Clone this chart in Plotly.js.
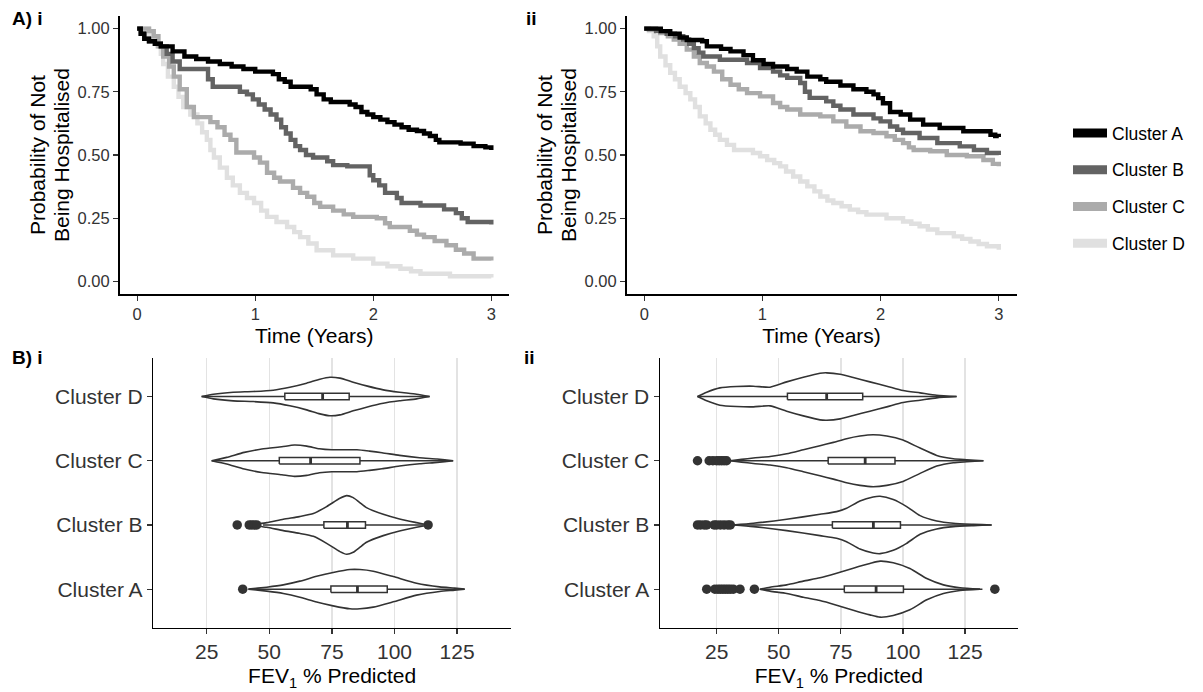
<!DOCTYPE html>
<html>
<head>
<meta charset="utf-8">
<script src="https://cdn.plot.ly/plotly-3.0.1.min.js"></script>
<style>html,body{margin:0;padding:0;background:#fff;}#chart{width:1203px;height:692px;}</style>
</head>
<body>
<div id="chart"></div>
<script>
// ---------- categories / labels ----------
const clusters = ["Cluster A", "Cluster B", "Cluster C", "Cluster D"];
const clusterColors = ["#000000", "#636363", "#ababab", "#e0e0e0"];
const survTicks = [0, 0.25, 0.5, 0.75, 1.0];
const timeTicks = [0, 1, 2, 3];
const fevTicks = [25, 50, 75, 100, 125];

// ---------- A) i : Kaplan-Meier (time in years, survival probability) ----------
const kmA_i_t = [0,0.03,0.06,0.1,0.15,0.2,0.3,0.4,0.5,0.6,0.7,0.8,0.9,1.0,1.15,1.2,1.25,1.3,1.47,1.52,1.58,1.64,1.8,1.85,1.9,1.95,2.0,2.06,2.12,2.18,2.24,2.3,2.37,2.43,2.48,2.53,2.56,2.74,2.85,2.95,3.0];
const kmA_i_s = [1.0,0.98,0.96,0.95,0.94,0.93,0.91,0.89,0.88,0.87,0.86,0.85,0.84,0.83,0.82,0.80,0.79,0.77,0.76,0.74,0.72,0.71,0.70,0.69,0.67,0.66,0.65,0.64,0.63,0.62,0.61,0.60,0.595,0.585,0.575,0.56,0.55,0.545,0.535,0.53,0.52];
const kmB_i_t = [0,0.03,0.06,0.1,0.15,0.2,0.25,0.3,0.36,0.6,0.64,0.87,0.93,0.98,1.03,1.08,1.13,1.18,1.22,1.26,1.3,1.34,1.38,1.43,1.49,1.61,1.66,1.78,1.97,2.0,2.05,2.1,2.2,2.24,2.4,2.6,2.7,2.75,2.8,3.0];
const kmB_i_s = [1.0,0.98,0.96,0.95,0.94,0.93,0.90,0.87,0.84,0.80,0.77,0.75,0.74,0.72,0.70,0.68,0.66,0.64,0.61,0.585,0.56,0.535,0.52,0.50,0.49,0.475,0.46,0.455,0.42,0.40,0.38,0.35,0.33,0.31,0.30,0.285,0.27,0.25,0.235,0.225];
const kmC_i_t = [0,0.05,0.1,0.14,0.18,0.22,0.27,0.31,0.36,0.42,0.48,0.62,0.68,0.74,0.79,0.84,0.99,1.04,1.1,1.16,1.21,1.32,1.38,1.44,1.5,1.55,1.66,1.75,1.83,2.03,2.1,2.14,2.31,2.37,2.43,2.52,2.62,2.7,2.77,2.85,3.0];
const kmC_i_s = [1.0,1.0,0.99,0.97,0.93,0.89,0.85,0.81,0.76,0.69,0.65,0.63,0.61,0.58,0.56,0.51,0.49,0.47,0.43,0.41,0.395,0.37,0.35,0.335,0.31,0.295,0.28,0.265,0.255,0.25,0.23,0.215,0.20,0.185,0.175,0.16,0.143,0.125,0.11,0.09,0.083];
const kmD_i_t = [0,0.05,0.1,0.14,0.17,0.2,0.22,0.26,0.31,0.35,0.39,0.45,0.51,0.55,0.59,0.62,0.65,0.7,0.76,0.81,0.87,0.93,0.99,1.05,1.1,1.18,1.27,1.33,1.38,1.45,1.52,1.66,1.83,2.0,2.12,2.23,2.32,2.4,2.65,3.0];
const kmD_i_s = [1.0,1.0,0.98,0.96,0.93,0.90,0.86,0.81,0.77,0.73,0.69,0.66,0.625,0.59,0.56,0.52,0.49,0.45,0.41,0.38,0.35,0.33,0.31,0.28,0.255,0.235,0.215,0.195,0.175,0.15,0.123,0.103,0.09,0.07,0.06,0.05,0.04,0.03,0.02,0.015];

// ---------- A) ii : Kaplan-Meier ----------
const kmA_ii_t = [0,0.14,0.22,0.3,0.36,0.49,0.53,0.65,0.73,0.84,0.92,1.01,1.09,1.21,1.29,1.38,1.49,1.54,1.66,1.77,1.88,1.94,1.98,2.02,2.08,2.17,2.25,2.36,2.5,2.7,2.93,2.97,3.0];
const kmA_ii_s = [1.0,0.99,0.98,0.965,0.955,0.95,0.93,0.92,0.91,0.895,0.875,0.86,0.85,0.84,0.83,0.81,0.80,0.79,0.775,0.76,0.75,0.74,0.725,0.705,0.67,0.66,0.64,0.62,0.607,0.594,0.58,0.575,0.571];
const kmB_ii_t = [0,0.1,0.19,0.26,0.33,0.38,0.42,0.46,0.5,0.64,0.87,0.98,1.09,1.15,1.21,1.32,1.36,1.4,1.54,1.6,1.66,1.77,1.94,2.0,2.08,2.14,2.19,2.33,2.48,2.67,2.79,2.9,3.0];
const kmB_ii_s = [1.0,0.99,0.98,0.97,0.957,0.94,0.923,0.905,0.89,0.877,0.864,0.844,0.83,0.815,0.805,0.785,0.75,0.726,0.712,0.695,0.68,0.66,0.645,0.633,0.613,0.60,0.587,0.567,0.547,0.534,0.52,0.508,0.50];
const kmC_ii_t = [0,0.04,0.135,0.2,0.25,0.3,0.36,0.42,0.47,0.53,0.59,0.66,0.73,0.8,0.87,0.98,1.09,1.15,1.21,1.32,1.49,1.6,1.71,1.83,1.94,2.05,2.12,2.19,2.24,2.28,2.42,2.56,2.73,2.87,2.95,3.0];
const kmC_ii_s = [1.0,0.995,0.983,0.97,0.957,0.94,0.917,0.89,0.864,0.85,0.83,0.80,0.778,0.76,0.745,0.732,0.706,0.69,0.68,0.66,0.653,0.633,0.613,0.594,0.587,0.574,0.56,0.547,0.53,0.52,0.515,0.50,0.495,0.48,0.465,0.455];
const kmD_ii_t = [0,0.04,0.08,0.11,0.135,0.18,0.22,0.26,0.3,0.35,0.39,0.43,0.47,0.52,0.56,0.6,0.64,0.7,0.76,0.92,0.98,1.04,1.1,1.15,1.2,1.26,1.32,1.38,1.44,1.49,1.55,1.6,1.67,1.74,1.81,1.88,2.05,2.19,2.26,2.33,2.4,2.48,2.62,2.69,2.76,2.83,2.9,3.0];
const kmD_ii_s = [1.0,0.99,0.97,0.93,0.89,0.855,0.825,0.80,0.77,0.745,0.72,0.69,0.653,0.625,0.60,0.58,0.56,0.54,0.52,0.508,0.495,0.48,0.468,0.455,0.435,0.415,0.395,0.376,0.356,0.336,0.32,0.31,0.297,0.284,0.274,0.264,0.25,0.237,0.228,0.218,0.205,0.191,0.178,0.168,0.158,0.148,0.139,0.125];

// ---------- B) i : violin outlines (FEV1 % predicted, half-width in category units) ----------
const vA_i_x = [41.6,49,55.6,62.2,68.9,75.5,82.2,86.2,91.5,99.5,108.8,118,124,128];
const vA_i_w = [0,0.031,0.067,0.125,0.2,0.26,0.306,0.306,0.28,0.197,0.093,0.036,0.016,0];
const vB_i_x = [41.6,45,49,55.6,62,67.6,72.9,78.2,80.9,83.5,86,88.8,95.5,102,108.8,113.4];
const vB_i_w = [0,0.016,0.036,0.088,0.13,0.177,0.286,0.415,0.457,0.426,0.353,0.27,0.166,0.093,0.036,0];
const vC_i_x = [27,33,40,47,55,60,65,70,75,80,85,90,95,102,110,117,123.4];
const vC_i_w = [0,0.052,0.13,0.182,0.218,0.244,0.228,0.187,0.171,0.171,0.171,0.15,0.125,0.083,0.047,0.026,0];
const vD_i_x = [23,27.7,35.6,43.6,51.6,58.2,64.9,70.2,74.2,78.2,83.5,88.8,95.5,102,108.8,114];
const vD_i_w = [0,0.036,0.067,0.078,0.099,0.145,0.208,0.27,0.30,0.286,0.223,0.166,0.104,0.067,0.036,0];
// box statistics, order A,B,C,D
const bx_i_q1  = [74.6, 71.8, 54.0, 56.2];
const bx_i_med = [85.2, 81.2, 66.5, 71.3];
const bx_i_q3  = [97.1, 88.4, 86.2, 81.9];
const bx_i_lo  = [42.0, 47.5, 27.0, 23.0];
const bx_i_hi  = [128.0, 111.4, 123.4, 114.0];
const out_i_x = [39.4, 37.2, 42.0, 43.0, 44.0, 45.0, 113.4];
const out_i_c = ["Cluster A","Cluster B","Cluster B","Cluster B","Cluster B","Cluster B","Cluster B"];

// ---------- B) ii ----------
const vA_ii_x = [42.4,46.5,53.2,59.9,66.6,73.3,80,86.7,90.8,96.1,102.8,109.6,116.3,123,131];
const vA_ii_w = [0,0.031,0.067,0.125,0.177,0.249,0.327,0.4,0.436,0.41,0.322,0.166,0.067,0.021,0];
const vB_ii_x = [31.7,39.8,53.2,66.6,73.3,77.3,82.7,88,90.8,96.1,101.5,106.9,113.6,120.3,128.4,135.7];
const vB_ii_w = [0,0.026,0.088,0.166,0.208,0.26,0.374,0.436,0.447,0.395,0.286,0.145,0.062,0.026,0.01,0];
const vC_ii_x = [30.4,35,39.8,46.5,53.2,59.9,66.6,72,77.3,82.7,88,93.5,100,106.9,113.6,120.3,125.7,132.4];
const vC_ii_w = [0,0.021,0.042,0.067,0.109,0.171,0.234,0.286,0.343,0.384,0.405,0.384,0.322,0.197,0.083,0.031,0.016,0];
const vD_ii_x = [17.3,21,26.3,33,39.8,46.5,53.2,59.9,66.6,69.3,74.7,80,86.7,93.5,100,106.9,113.6,121.6];
const vD_ii_w = [0,0.067,0.135,0.156,0.161,0.145,0.228,0.301,0.363,0.369,0.348,0.296,0.228,0.161,0.093,0.057,0.021,0];
const bx_ii_q1  = [76.4, 71.6, 69.9, 53.5];
const bx_ii_med = [89.2, 88.1, 84.8, 69.3];
const bx_ii_q3  = [100.2, 99.0, 96.8, 83.8];
const bx_ii_lo  = [42.4, 31.7, 30.4, 17.3];
const bx_ii_hi  = [132.0, 135.7, 132.4, 121.6];
const out_ii_x = [21,24.3,25.5,26.5,27.5,28.5,29.5,30.5,31.7,34.4,40.2,137, 17.3,18.5,20,21,24,25,26.5,28,29.5,30.5, 17.3,22,23.5,25,26,27,28,29];
const out_ii_c = ["Cluster A","Cluster A","Cluster A","Cluster A","Cluster A","Cluster A","Cluster A","Cluster A","Cluster A","Cluster A","Cluster A","Cluster A",
  "Cluster B","Cluster B","Cluster B","Cluster B","Cluster B","Cluster B","Cluster B","Cluster B","Cluster B","Cluster B",
  "Cluster C","Cluster C","Cluster C","Cluster C","Cluster C","Cluster C","Cluster C","Cluster C"];

// ---------- build traces ----------
const FONT = "Liberation Sans, Arial, Helvetica, sans-serif";
const BOX_HALF = 0.05;   // half height of the box (style)
const EDGE = "#333333";
const traces = [];
function kmTrace(t, s, i, xa, ya) {
  return {type: "scatter", mode: "lines", x: t, y: s, xaxis: xa, yaxis: ya,
    line: {color: clusterColors[i], width: 4.4, shape: "hv"}, showlegend: false, hoverinfo: "skip"};
}
const km_i = [[kmA_i_t,kmA_i_s],[kmB_i_t,kmB_i_s],[kmC_i_t,kmC_i_s],[kmD_i_t,kmD_i_s]];
const km_ii = [[kmA_ii_t,kmA_ii_s],[kmB_ii_t,kmB_ii_s],[kmC_ii_t,kmC_ii_s],[kmD_ii_t,kmD_ii_s]];
for (let i = 3; i >= 0; i--) traces.push(kmTrace(km_i[i][0], km_i[i][1], i, "x", "y"));
for (let i = 3; i >= 0; i--) traces.push(kmTrace(km_ii[i][0], km_ii[i][1], i, "x2", "y2"));

function violinTrace(vx, vw, pos, xa, ya) {
  const xs = vx.concat(vx.slice().reverse());
  const ys = vw.map(w => pos + w).concat(vw.slice().reverse().map(w => pos - w));
  xs.push(xs[0]); ys.push(ys[0]);
  return {type: "scatter", mode: "lines", x: xs, y: ys, xaxis: xa, yaxis: ya, fill: "toself",
    fillcolor: "#ffffff", line: {color: EDGE, width: 1.6, shape: "spline", smoothing: 0.6},
    showlegend: false, hoverinfo: "skip"};
}
function boxTraces(i, q1, med, q3, lo, hi, xa, ya) {
  const p = i + 1;
  const common = {type: "scatter", mode: "lines", xaxis: xa, yaxis: ya, showlegend: false, hoverinfo: "skip"};
  return [
    Object.assign({}, common, {x: [lo[i], q1[i], null, q3[i], hi[i]], y: [p, p, null, p, p],
      line: {color: EDGE, width: 1.5}}),
    Object.assign({}, common, {x: [q1[i], q3[i], q3[i], q1[i], q1[i]],
      y: [p - BOX_HALF, p - BOX_HALF, p + BOX_HALF, p + BOX_HALF, p - BOX_HALF],
      fill: "toself", fillcolor: "#ffffff", line: {color: EDGE, width: 1.5}}),
    Object.assign({}, common, {x: [med[i], med[i]], y: [p - BOX_HALF, p + BOX_HALF],
      line: {color: EDGE, width: 2.8}})
  ];
}
const viol_i = [[vA_i_x,vA_i_w],[vB_i_x,vB_i_w],[vC_i_x,vC_i_w],[vD_i_x,vD_i_w]];
const viol_ii = [[vA_ii_x,vA_ii_w],[vB_ii_x,vB_ii_w],[vC_ii_x,vC_ii_w],[vD_ii_x,vD_ii_w]];
for (let i = 0; i < 4; i++) {
  traces.push(violinTrace(viol_i[i][0], viol_i[i][1], i + 1, "x3", "y3"));
  traces.push(...boxTraces(i, bx_i_q1, bx_i_med, bx_i_q3, bx_i_lo, bx_i_hi, "x3", "y3"));
  traces.push(violinTrace(viol_ii[i][0], viol_ii[i][1], i + 1, "x4", "y4"));
  traces.push(...boxTraces(i, bx_ii_q1, bx_ii_med, bx_ii_q3, bx_ii_lo, bx_ii_hi, "x4", "y4"));
}
traces.push({type: "scatter", mode: "markers", x: out_i_x, y: out_i_c.map(c => clusters.indexOf(c) + 1),
  xaxis: "x3", yaxis: "y3", marker: {color: EDGE, size: 9.5}, showlegend: false, hoverinfo: "skip"});
traces.push({type: "scatter", mode: "markers", x: out_ii_x, y: out_ii_c.map(c => clusters.indexOf(c) + 1),
  xaxis: "x4", yaxis: "y4", marker: {color: EDGE, size: 9.5}, showlegend: false, hoverinfo: "skip"});

// legend entries
for (let i = 0; i < 4; i++) {
  traces.push({type: "scatter", mode: "lines", x: [null], y: [null], name: clusters[i], legendgroup: clusters[i],
    line: {color: clusterColors[i], width: 9}, showlegend: true, xaxis: "x", yaxis: "y"});
}

// ---------- layout ----------
const W = 1203, H = 692;
const dx = (a, b) => [a / W, b / W];
const dy = (top, bottom) => [(H - bottom) / H, (H - top) / H];

const axLine = {showline: true, linecolor: "#000000", linewidth: 1.5, ticks: "outside", ticklen: 5,
  tickwidth: 1.3, tickcolor: "#333333", zeroline: false, mirror: false, fixedrange: true};
const titleFont = {family: FONT, size: 21, color: "#000000"};

function kmX(domain, anchor) {
  return Object.assign({}, axLine, {domain: domain, anchor: anchor, range: [-0.15, 3.15],
    tickvals: timeTicks, showgrid: false, tickfont: {family: FONT, size: 16.5, color: "#333333"},
    title: {text: "Time (Years)", font: titleFont, standoff: 6}});
}
function kmY(domain, anchor) {
  return Object.assign({}, axLine, {domain: domain, anchor: anchor, range: [-0.05, 1.05],
    tickvals: survTicks, tickformat: ".2f", showgrid: false, tickfont: {family: FONT, size: 16.5, color: "#333333"}});
}
function fevX(domain, anchor, range) {
  return Object.assign({}, axLine, {domain: domain, anchor: anchor, range: range,
    tickvals: fevTicks, showgrid: true, gridcolor: "#e3e3e3", gridwidth: 1.5,
    tickfont: {family: FONT, size: 21, color: "#333333"},
    title: {text: "FEV<sub>1</sub> % Predicted", font: titleFont, standoff: 6}});
}
function fevY(domain, anchor) {
  return Object.assign({}, axLine, {domain: domain, anchor: anchor, range: [0.4, 4.6],
    tickvals: [1, 2, 3, 4], ticktext: clusters, showgrid: false,
    tickfont: {family: FONT, size: 21, color: "#333333"}});
}

function label(text, xpx, ypx, size, angle, bold) {
  return {text: bold ? "<b>" + text + "</b>" : text, x: xpx / W, y: (H - ypx) / H, xref: "paper", yref: "paper",
    xanchor: angle ? "center" : "left", yanchor: "middle", showarrow: false, textangle: angle || 0,
    font: {family: FONT, size: size, color: "#000"}};
}

const layout = {
  width: W, height: H, margin: {l: 0, r: 0, t: 0, b: 0}, paper_bgcolor: "#ffffff", plot_bgcolor: "#ffffff",
  font: {family: FONT, color: "#000000"},
  xaxis: kmX(dx(119.5, 509), "y"),
  yaxis: kmY(dy(16, 294), "x"),
  xaxis2: kmX(dx(626.5, 1016.5), "y2"),
  yaxis2: kmY(dy(16, 294), "x2"),
  xaxis3: fevX(dx(153.3, 511), "y3", [3.7, 146.5]),
  yaxis3: fevY(dy(358, 627.7), "x3"),
  xaxis4: fevX(dx(660, 1017.7), "y4", [2.2, 146.2]),
  yaxis4: fevY(dy(358, 627.7), "x4"),
  showlegend: true,
  legend: {x: 1068 / W, y: (H - 115) / H, xanchor: "left", yanchor: "top", bgcolor: "rgba(0,0,0,0)",
    font: {family: FONT, size: 17.5, color: "#000000"}, tracegroupgap: 11, traceorder: "grouped", itemwidth: 34},
  annotations: [
    label("A) i", 10, 19, 19, 0, true),
    label("ii", 524, 19, 19, 0, true),
    label("B) i", 10, 358, 19, 0, true),
    label("ii", 522, 358, 19, 0, true),
    label("Probability of Not", 37, 155, 21, -90, false),
    label("Being Hospitalised", 61, 155, 21, -90, false),
    label("Probability of Not", 544, 155, 21, -90, false),
    label("Being Hospitalised", 568, 155, 21, -90, false)
  ]
};

Plotly.newPlot("chart", traces, layout, {staticPlot: true, displayModeBar: false}).then(function (gd) {
  // drop empty placeholder text nodes (e.g. untitled axes); purely cosmetic
  gd.querySelectorAll("text").forEach(function (t) {
    if (!t.textContent || !t.textContent.trim()) t.parentNode.removeChild(t);
  });
});
</script>
</body>
</html>
